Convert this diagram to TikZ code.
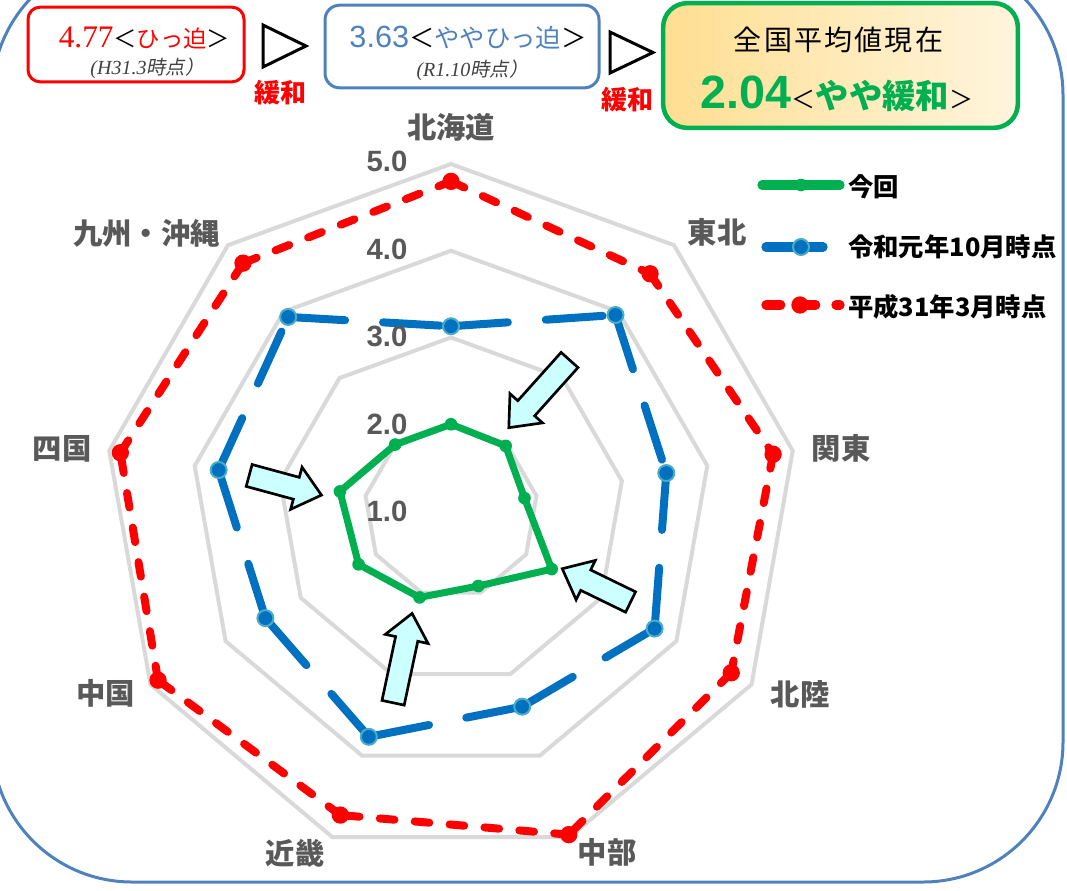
\documentclass[tikz,border=0pt]{standalone}
\usepackage{fontspec}
\setmainfont{Liberation Sans}
\newfontfamily\jpfont{Noto Sans CJK JP}
\newfontfamily\jpwide[LetterSpace=8]{Noto Sans CJK JP}
\newfontfamily\jpslant[FakeSlant=0.2]{Noto Sans CJK JP}
\newfontfamily\numserif{Liberation Serif}
\usepackage{tikz}
\usetikzlibrary{shapes.arrows,positioning,calc}
\definecolor{framblue}{RGB}{79,129,189}
\definecolor{gridgray}{RGB}{217,217,217}
\definecolor{labgray}{RGB}{89,89,89}
\definecolor{kongreen}{RGB}{0,176,80}
\definecolor{r1blue}{RGB}{0,112,192}
\definecolor{r1edge}{RGB}{75,172,198}
\definecolor{h31red}{RGB}{255,0,0}
\definecolor{arrowfill}{RGB}{204,255,255}
\definecolor{boxleft}{RGB}{255,222,145}
\definecolor{boxright}{RGB}{255,245,222}
\newcommand{\setfs}[1]{\fontsize{#1pt}{#1pt}\selectfont}
\tikzstyle{gridring}=[draw=gridgray,line width=3pt,line join=miter]
\tikzstyle{konline}=[draw=kongreen,line width=5.25pt,line join=round,line cap=round]
\tikzstyle{r1line}=[draw=r1blue,line width=6pt,line cap=round,dash pattern=on 42.75pt off 28.5pt]
\tikzstyle{h31line}=[draw=h31red,line width=6pt,line cap=round,dash pattern=on 11pt off 15.25pt]
\tikzstyle{kondot}=[circle,fill=kongreen,inner sep=0pt,minimum size=9.5pt]
\tikzstyle{r1dot}=[circle,fill=r1blue,draw=r1edge,line width=1.5pt,inner sep=0pt,minimum size=12pt]
\tikzstyle{h31dot}=[circle,fill=h31red,inner sep=0pt,minimum size=13pt]
\tikzstyle{region}=[text=labgray,font=\jpfont\bfseries\setfs{22},inner sep=0pt]
\tikzstyle{scalelab}=[text=labgray,font=\bfseries\setfs{22},inner sep=0pt]
\tikzstyle{hint}=[single arrow,draw=black,fill=arrowfill,line width=2pt,inner sep=7.5pt,
  single arrow head extend=7.9pt,single arrow tip angle=80,single arrow head indent=0pt]
\tikzstyle{legtext}=[anchor=west,font=\jpfont\bfseries\setfs{19},inner sep=0pt]
\tikzstyle{valbox}=[line width=2.25pt,inner sep=0pt]
\tikzstyle{ease}=[draw=black,line width=2.25pt,line join=miter]
\tikzstyle{easetext}=[text=h31red,font=\jpfont\bfseries\setfs{19.5},inner sep=0pt]

\begin{document}
\begin{tikzpicture}[x=0.75pt,y=-0.75pt]
\useasboundingbox (0,0) rectangle (1067,890);
\draw[draw=framblue,line width=2.25pt,rounded corners=105pt] (-8,-45) rectangle (1063,882);

% values at the top
\node[valbox,draw=h31red,rounded corners=9pt,minimum width=162pt,minimum height=56pt] (h31box) at (136,44.5) {};
\node[anchor=base,inner sep=0pt] (h31val) at (144.5,47)
  {{\numserif\setfs{23.5}\textcolor{h31red}{4.77}}{\jpfont\setfs{17.5}＜\textcolor{h31red}{ひっ迫}＞}};
\node[anchor=base,inner sep=0pt,text=black!75] (h31when) at (147.5,74)
  {{\numserif\itshape\setfs{15}(H31.3}{\jpslant\setfs{14.5}時点）}};
\draw[ease] (263,25) -- (263,67) -- (306,46) -- cycle;
\node[easetext] (ease1) at (280,93) {緩和};

\node[valbox,draw=framblue,rounded corners=11pt,minimum width=205.5pt,minimum height=62pt] (r1box) at (462,46.5) {};
\node[anchor=base,inner sep=0pt] (r1val) at (468,47)
  {{\setfs{23}\textcolor{framblue}{3.63}}{\jpfont\setfs{19}＜\textcolor{framblue}{ややひっ迫}＞}};
\node[anchor=base,inner sep=0pt,text=black!75] (r1when) at (472.5,76)
  {{\numserif\itshape\setfs{15}(R1.10}{\jpslant\setfs{14.5}時点）}};
\draw[ease] (610,32) -- (610,73) -- (653,52.5) -- cycle;
\node[easetext] (ease2) at (627,100) {緩和};

\node[line width=3.4pt,draw=kongreen,rounded corners=18pt,left color=boxleft,right color=boxright,
  minimum width=266pt,minimum height=93.5pt] (nowbox) at (840.5,65.5) {};
\node[inner sep=0pt] (nowtitle) at (838.5,40) {\jpwide\setfs{21}全国平均値現在};
\node[anchor=base,inner sep=0pt] (nowval) at (837,108)
  {{\bfseries\setfs{35}\textcolor{kongreen}{2.04}}{\jpfont\setfs{18}＜}{\jpfont\bfseries\setfs{25}\textcolor{kongreen}{やや緩和}}{\jpfont\setfs{18}＞}};

% radar
\begin{scope}[shift={(451,511)},yscale=-1]
\foreach \v in {2,3,4,5}{
  \pgfmathsetmacro{\rr}{(\v-1)*86.75}
  \draw[gridring] (90:\rr) -- (50:\rr) -- (10:\rr) -- (-30:\rr) -- (-70:\rr)
    -- (-110:\rr) -- (-150:\rr) -- (-190:\rr) -- (-230:\rr) -- cycle;
}
\foreach \a/\kon/\rone/\hsan [count=\i] in {
  90/2.00/3.13/4.80, 50/1.98/3.95/4.57, 10/1.86/3.52/4.77,
  -30/2.34/3.71/4.73, -70/1.92/3.40/4.97, -110/2.06/3.77/4.73,
  -150/2.23/3.47/4.90, -190/2.30/3.72/4.87, -230/2.00/3.92/4.73}{
  \coordinate (konp\i) at (\a:{(\kon-1)*86.75});
  \coordinate (r1p\i) at (\a:{(\rone-1)*86.75});
  \coordinate (h31p\i) at (\a:{(\hsan-1)*86.75});
}
\end{scope}
\foreach \i/\j in {1/2,2/3,3/4,4/5,5/6,6/7,7/8,8/9,9/1}
  \draw[h31line] (h31p\i) -- (h31p\j);
\foreach \i in {1,...,9} \node[h31dot] (h31d\i) at (h31p\i) {};
\foreach \i/\j in {1/2,2/3,3/4,4/5,5/6,6/7,7/8,8/9,9/1}
  \draw[r1line] (r1p\i) -- (r1p\j);
\foreach \i in {1,...,9} \node[r1dot] (r1d\i) at (r1p\i) {};
\draw[konline] (konp1) \foreach \i in {2,...,9}{ -- (konp\i)} -- cycle;
\foreach \i in {1,...,9} \node[kondot] (kond\i) at (konp\i) {};

% scale and regions
\foreach \v in {1,...,5}
  \node[scalelab] (tick\v) at (387,{511.5-(\v-1)*87.5}) {\v.0};
\node[region] (hokkaido) at (451,127) {北海道};
\node[region] (tohoku) at (717,232) {東北};
\node[region] (kanto) at (841,448) {関東};
\node[region] (hokuriku) at (800,694) {北陸};
\node[region] (chubu) at (607,852) {中部};
\node[region] (kinki) at (295,853) {近畿};
\node[region] (chugoku) at (105.5,693) {中国};
\node[region] (shikoku) at (62,449) {四国};
\node[region] (kyushu) at (146.5,233) {九州・沖縄};

% arrows
\node[hint,minimum height=68.2pt,rotate=228.1] (arr1) at (543.7,388.8) {};
\node[hint,minimum height=56.2pt,rotate=-15.2] (arr2) at (278.8,483.5) {};
\node[hint,minimum height=57pt,rotate=154] (arr3) at (602.5,588.3) {};
\node[hint,minimum height=68.5pt,rotate=78] (arr4) at (401.2,664.7) {};

% legend
\coordinate (legk1) at (762,185); \coordinate (legk2) at (840,185);
\coordinate (legr1) at (766,247); \coordinate (legr2) at (824,247);
\coordinate (legh1) at (766,305); \coordinate (legh2) at (840,305);
\draw[konline,line width=7pt] (legk1) -- (legk2);
\draw[r1line,line width=7pt] (legr1) -- (legr2);
\draw[h31line,line width=7pt] (legh1) -- (legh2);
\node[kondot] (legkd) at (801,185) {};
\node[r1dot] (legrd) at (801,247) {};
\node[h31dot] (leghd) at (800,305) {};
\node[legtext] (legkon) at (848,187) {今回};
\node[legtext] (legr1t) at (848,247) {令和元年10月時点};
\node[legtext] (legh31t) at (848,307) {平成31年3月時点};
\end{tikzpicture}
\end{document}
